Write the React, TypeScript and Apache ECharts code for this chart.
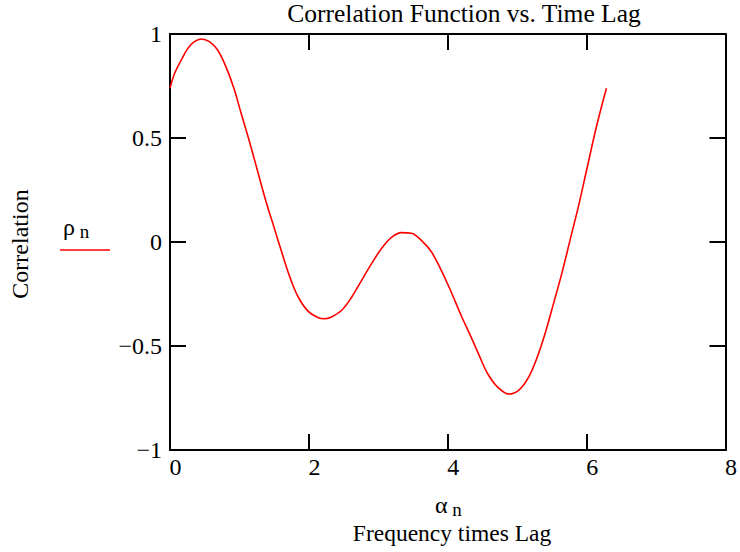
import React, { useEffect, useRef } from "react";
import * as echarts from "echarts";

const alphaValues = [
  0.0, 0.067, 0.162, 0.257, 0.352, 0.448, 0.567, 0.686, 0.805, 0.924, 1.019, 1.138, 1.257, 1.376,
  1.495, 1.614, 1.733, 1.852, 1.995, 2.138, 2.22, 2.31, 2.476, 2.62, 2.762, 2.905, 3.048, 3.19,
  3.333, 3.476, 3.619, 3.762, 3.905, 4.048, 4.19, 4.333, 4.452, 4.571, 4.714, 4.881, 5.024, 5.167,
  5.286, 5.405, 5.524, 5.643, 5.762, 5.881, 6.0, 6.119, 6.214, 6.286,
];
const rhoValues = [
  0.739, 0.811, 0.875, 0.931, 0.963, 0.976, 0.963, 0.923, 0.843, 0.735, 0.625, 0.49, 0.346, 0.202,
  0.074, -0.054, -0.175, -0.268, -0.335, -0.364, -0.369, -0.363, -0.327, -0.263, -0.183, -0.103,
  -0.03, 0.022, 0.045, 0.042, 0.008, -0.046, -0.135, -0.239, -0.351, -0.455, -0.545, -0.631, -0.696,
  -0.731, -0.712, -0.648, -0.556, -0.436, -0.295, -0.151, 0.01, 0.17, 0.346, 0.523, 0.65, 0.739,
];

const xTicks = { min: 0, max: 8, interval: 2 };
const yTicks = { min: -1, max: 1, interval: 0.5 };

const titleText = "Correlation Function vs. Time Lag";
const yAxisTitle = "Correlation";
const xAxisTitle = "Frequency times Lag";

const FONT = "'Liberation Serif', 'Times New Roman', serif";

export default function App() {
  const ref = useRef<HTMLDivElement>(null);
  useEffect(() => {
    if (!ref.current) return;
    const chart = echarts.init(ref.current, null, { renderer: "svg" });
    const lineStyle = { color: "#000", width: 2 };
    const fmt = (v: number) => String(v).replace("-", "\u2212");
    const data = alphaValues.map((a, i) => [a, rhoValues[i]]);
    chart.setOption({
      animation: false,
      backgroundColor: "#ffffff",
      title: {
        text: titleText,
        left: 464,
        textAlign: "center",
        top: 0,
        padding: 0,
        textStyle: { fontFamily: FONT, fontSize: 25.5, fontWeight: "normal", color: "#000" },
      },
      grid: { left: 170, top: 34, right: 10, bottom: 102 },
      xAxis: [
        {
          type: "value",
          position: "bottom",
          ...xTicks,
          axisLine: { show: true, onZero: false, lineStyle },
          axisTick: { show: true, inside: true, length: 16, lineStyle },
          axisLabel: {
            fontFamily: FONT,
            fontSize: 24,
            color: "#000",
            margin: 5,
            padding: [0, 0, 0, 11],
            formatter: fmt,
          },
          splitLine: { show: false },
        },
        {
          type: "value",
          position: "top",
          ...xTicks,
          axisLine: { show: true, onZero: false, lineStyle },
          axisTick: { show: true, inside: true, length: 16, lineStyle },
          axisLabel: { show: false },
          splitLine: { show: false },
        },
      ],
      yAxis: [
        {
          type: "value",
          position: "left",
          ...yTicks,
          axisLine: { show: true, onZero: false, lineStyle },
          axisTick: { show: true, inside: true, length: 16, lineStyle },
          axisLabel: { fontFamily: FONT, fontSize: 24, color: "#000", margin: 8, formatter: fmt },
          splitLine: { show: false },
        },
        {
          type: "value",
          position: "right",
          ...yTicks,
          axisLine: { show: true, onZero: false, lineStyle },
          axisTick: { show: true, inside: true, length: 16, lineStyle },
          axisLabel: { show: false },
          splitLine: { show: false },
        },
      ],
      series: [
        {
          type: "line",
          data,
          smooth: 0.35,
          showSymbol: false,
          lineStyle: { color: "#ff0000", width: 1.6 },
          xAxisIndex: 0,
          yAxisIndex: 0,
        },
      ],
      graphic: [
        {
          type: "text",
          x: 20,
          y: 244,
          rotation: Math.PI / 2,
          style: {
            text: yAxisTitle,
            fontFamily: FONT,
            fontSize: 24,
            fill: "#000",
            align: "center",
            verticalAlign: "middle",
          },
        },
        {
          type: "text",
          x: 63,
          y: 227,
          style: {
            text: "{a|\u03c1}{b| n}",
            verticalAlign: "middle",
            rich: {
              a: { fontFamily: FONT, fontSize: 24, fill: "#000" },
              b: { fontFamily: FONT, fontSize: 19, fill: "#000", padding: [8, 0, 0, 0] },
            },
          },
        },
        {
          type: "line",
          shape: { x1: 60, y1: 250, x2: 110, y2: 250 },
          style: { stroke: "#ff0000", lineWidth: 1.6 },
        },
        {
          type: "text",
          x: 435,
          y: 505,
          style: {
            text: "{a|\u03b1}{b| n}",
            verticalAlign: "middle",
            rich: {
              a: { fontFamily: FONT, fontSize: 24, fill: "#000" },
              b: { fontFamily: FONT, fontSize: 19, fill: "#000", padding: [8, 0, 0, 0] },
            },
          },
        },
        {
          type: "text",
          x: 452,
          y: 533,
          style: {
            text: xAxisTitle,
            fontFamily: FONT,
            fontSize: 23.5,
            fill: "#000",
            align: "center",
            verticalAlign: "middle",
          },
        },
      ],
    });
    return () => chart.dispose();
  }, []);
  return (
    <div
      ref={ref}
      style={{ position: "fixed", left: 0, top: 0, width: 740, height: 552 }}
    />
  );
}
